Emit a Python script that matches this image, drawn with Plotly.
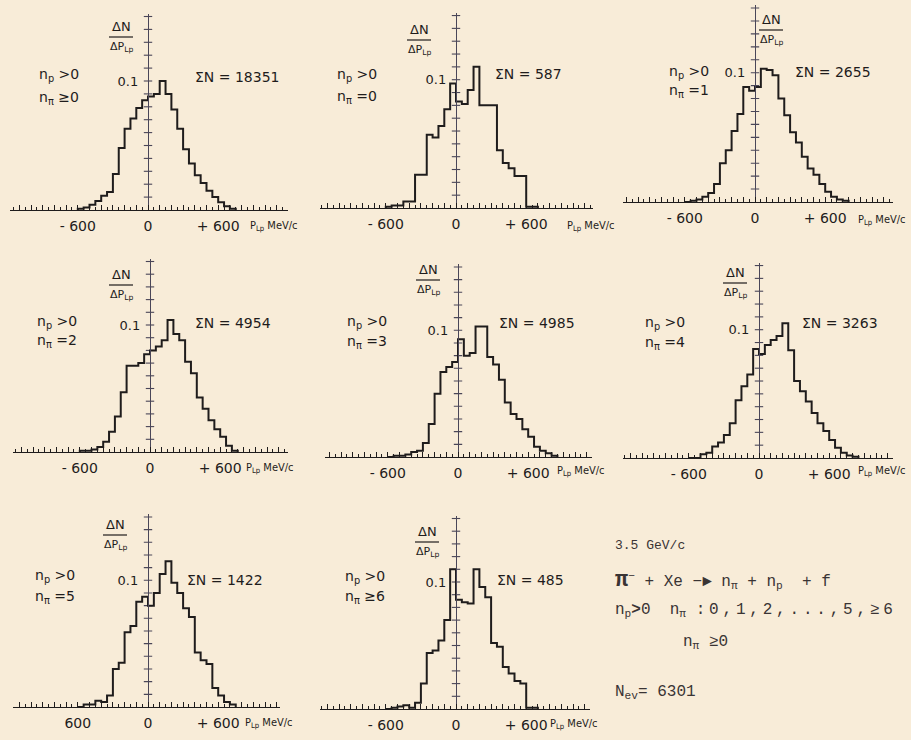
import plotly.graph_objects as go

# ---------------- data ----------------
bin_edges = list(range(-600, 900, 50))  # MeV/c, 50 MeV/c bins

p1 = [0.001, 0.002, 0.004, 0.007, 0.011, 0.014, 0.028, 0.048, 0.063, 0.071, 0.079, 0.085, 0.088, 0.090,
      0.100, 0.090, 0.078, 0.063, 0.047, 0.036, 0.027, 0.021, 0.015, 0.010, 0.006, 0.003, 0.001]
p2 = [0.001, 0.002, 0.002, 0.005, 0.005, 0.026, 0.026, 0.057, 0.055, 0.064, 0.077, 0.097, 0.083, 0.081,
      0.092, 0.110, 0.080, 0.080, 0.080, 0.045, 0.035, 0.031, 0.025, 0.025, 0.001, 0.001]
p3 = [0.000, 0.001, 0.002, 0.004, 0.007, 0.014, 0.030, 0.040, 0.055, 0.068, 0.089, 0.086, 0.089, 0.103,
      0.102, 0.098, 0.080, 0.067, 0.054, 0.046, 0.035, 0.026, 0.021, 0.014, 0.008, 0.004, 0.002, 0.001]
p4 = [0.001, 0.001, 0.002, 0.004, 0.008, 0.016, 0.028, 0.047, 0.068, 0.068, 0.070, 0.077, 0.080, 0.083,
      0.088, 0.104, 0.093, 0.088, 0.071, 0.062, 0.043, 0.034, 0.025, 0.018, 0.012, 0.005, 0.001]
p5 = [0.000, 0.001, 0.001, 0.002, 0.004, 0.005, 0.011, 0.026, 0.050, 0.067, 0.071, 0.075, 0.093, 0.080,
      0.082, 0.103, 0.103, 0.079, 0.073, 0.061, 0.043, 0.034, 0.030, 0.022, 0.016, 0.008, 0.005, 0.003, 0.001]
p6 = [0.000, 0.000, 0.003, 0.004, 0.009, 0.012, 0.018, 0.027, 0.045, 0.056, 0.065, 0.085, 0.081, 0.088,
      0.092, 0.095, 0.105, 0.084, 0.060, 0.052, 0.044, 0.035, 0.027, 0.021, 0.014, 0.008, 0.004, 0.002, 0.001]
p7 = [0.000, 0.002, 0.002, 0.005, 0.004, 0.009, 0.030, 0.035, 0.059, 0.064, 0.083, 0.087, 0.080, 0.090,
      0.105, 0.115, 0.098, 0.090, 0.078, 0.071, 0.043, 0.037, 0.034, 0.015, 0.009, 0.004, 0.002]
p8 = [0.000, 0.001, 0.002, 0.003, 0.001, 0.005, 0.020, 0.044, 0.046, 0.054, 0.070, 0.110, 0.086, 0.084,
      0.083, 0.110, 0.096, 0.088, 0.052, 0.049, 0.033, 0.028, 0.022, 0.020, 0.001, 0.001]
hist_values = [p1, p2, p3, p4, p5, p6, p7, p8]

n_pi_labels = ["n<sub>π</sub> ≥0", "n<sub>π</sub> =0", "n<sub>π</sub> =1", "n<sub>π</sub> =2",
               "n<sub>π</sub> =3", "n<sub>π</sub> =4", "n<sub>π</sub> =5", "n<sub>π</sub> ≥6"]
n_p_label = "n<sub>p</sub> >0"
sum_labels = ["ΣN = 18351", "ΣN = 587", "ΣN = 2655", "ΣN = 4954",
              "ΣN = 4985", "ΣN = 3263", "ΣN = 1422", "ΣN = 485"]
left_tick_labels = ["- 600", "- 600", "- 600", "- 600", "- 600", "- 600", "600", "- 600"]
right_tick_labels = ["+ 600"] * 8
ytick_vals = [0.01, 0.02, 0.03, 0.04, 0.05, 0.06, 0.07, 0.08, 0.09, 0.10, 0.11, 0.12, 0.13, 0.14, 0.15]

info_lines = ["3.5 GeV/c",
              "<span style='font-size:22px'><b>π</b></span><sup>−</sup> + Xe −► n<sub>π</sub> + n<sub>p</sub>  + f",
              "n<sub>p</sub><b>></b>0  n<sub>π</sub> <span style='letter-spacing:3.8px'>:0,1,2,...,5,≥6</span>",
              "n<sub>π</sub> ≥0",
              "N<sub>ev</sub>= 6301"]

# ---------------- layout / styles ----------------
W, H = 911, 740
BG = "#f8ecd8"
INK = "#1f1c1c"
AXC = "#4a4658"
PX_PER_MEV = 0.117
Y_TOP = 0.152
LFONT = "DejaVu Sans"
NFONT = "Liberation Sans Narrow, DejaVu Sans Condensed, Liberation Sans, sans-serif"

# panel geometry in pixels: x-axis ends, zero position, baseline, px per unit of dN/dP
geom = [
    dict(left=10, right=288, zero=148, base=210, k=1290, frac=(121, 37), np=(37, 75, 98), sn=(193, 77), pl=(248, 226)),
    dict(left=320, right=593, zero=456, base=208, k=1283, frac=(419, 40), np=(335, 75, 97), sn=(493, 74), pl=(565, 226)),
    dict(left=623, right=893, zero=755, base=202, k=1293, frac=(771, 30), np=(667, 72, 91), sn=(793, 72), pl=(856, 220)),
    dict(left=13, right=288, zero=150, base=452, k=1270, frac=(121, 285), np=(35, 322, 341), sn=(193, 323), pl=(244, 468)),
    dict(left=325, right=592, zero=458, base=457, k=1267, frac=(428, 280), np=(345, 322, 342), sn=(497, 323), pl=(555, 471)),
    dict(left=623, right=893, zero=759, base=458, k=1283, frac=(735, 283), np=(643, 323, 343), sn=(800, 323), pl=(856, 471)),
    dict(left=13, right=280, zero=148, base=707, k=1267, frac=(115, 535), np=(33, 576, 597), sn=(185, 580), pl=(243, 723)),
    dict(left=320, right=590, zero=456, base=709, k=1270, frac=(427, 542), np=(343, 577, 597), sn=(495, 580), pl=(548, 724)),
]
info_pos = [(613, 545), (613, 580), (613, 610), (681, 642), (613, 692)]
info_sizes = [13, 16, 16, 16, 16]


def px(x):
    return x / W


def py(y):
    return 1 - y / H


fig = go.Figure()
layout = dict(width=W, height=H, margin=dict(l=0, r=0, t=0, b=0),
              paper_bgcolor=BG, plot_bgcolor="rgba(0,0,0,0)", showlegend=False)
annotations = []
shapes = []
NP = len(hist_values)

for i, (vals, g) in enumerate(zip(hist_values, geom)):
    n = i + 1
    m = n + NP  # overlay axis for the long ticks
    xa = "xaxis" if n == 1 else f"xaxis{n}"
    ya = "yaxis" if n == 1 else f"yaxis{n}"
    xr = "x" if n == 1 else f"x{n}"
    yr = "y" if n == 1 else f"y{n}"
    xmin = -(g["zero"] - g["left"]) / PX_PER_MEV
    xmax = (g["right"] - g["zero"]) / PX_PER_MEV
    long_ticks = [v for v in range(-1200, 1201, 100) if xmin <= v <= xmax]
    short_ticks = [v for v in range(-1150, 1201, 100) if xmin <= v <= xmax]
    label_vals = [-600, 0, 600]
    label_text = [left_tick_labels[i], "0", right_tick_labels[i]]
    dom_x = [px(g["left"]), px(g["right"])]

    layout[xa] = dict(domain=dom_x, range=[xmin, xmax], anchor=yr,
                      showgrid=False, zeroline=False, showline=True, linecolor=INK, linewidth=1.4,
                      ticks="inside", ticklen=5, tickwidth=1.1, tickcolor=INK,
                      tickmode="array", tickvals=label_vals, ticktext=label_text,
                      minor=dict(tickmode="array", tickvals=short_ticks, ticks="inside", ticklen=3,
                                 tickwidth=1, tickcolor=INK),
                      tickfont=dict(family=LFONT, size=14, color=INK), ticklabelstandoff=3)
    layout[f"xaxis{m}"] = dict(domain=dom_x, range=[xmin, xmax], anchor=yr, overlaying=xr,
                               showgrid=False, zeroline=False, showline=False, showticklabels=False,
                               ticks="inside", ticklen=5, tickwidth=1.1, tickcolor=INK,
                               tickmode="array", tickvals=long_ticks)
    layout[ya] = dict(domain=[py(g["base"]), py(g["base"] - Y_TOP * g["k"])], range=[0, Y_TOP],
                      anchor="free", position=px(g["zero"]), showgrid=False, zeroline=False,
                      showline=True, linecolor=AXC, linewidth=1.3, ticks="",
                      tickmode="array", tickvals=[0.10], ticktext=["0.1"], ticklabelstandoff=7,
                      tickfont=dict(family=LFONT, size=13, color=INK))

    fig.add_trace(go.Scatter(x=[], y=[], xaxis=f"x{m}", yaxis=yr, mode="markers", hoverinfo="skip"))
    # y-axis crossing ticks
    fig.add_trace(go.Scatter(x=[0] * len(ytick_vals), y=ytick_vals, xaxis=xr, yaxis=yr, mode="markers",
                             marker=dict(symbol="line-ew", size=6, line=dict(width=1.1, color=AXC)),
                             hoverinfo="skip"))
    # histogram as steps
    nb = len(vals)
    xs = [bin_edges[0]] + bin_edges[:nb] + [bin_edges[nb]]
    ys = [0] + list(vals) + [0]
    fig.add_trace(go.Scatter(x=xs, y=ys, xaxis=xr, yaxis=yr, mode="lines",
                             line=dict(shape="hv", color=INK, width=2), hoverinfo="skip"))

    # dN/dP fraction label
    fx, fy = g["frac"]
    annotations.append(dict(x=px(fx), y=py(fy - 1), xref="paper", yref="paper", text="ΔN",
                            showarrow=False, xanchor="center", yanchor="bottom",
                            font=dict(family=LFONT, size=13, color=INK)))
    annotations.append(dict(x=px(fx), y=py(fy + 1), xref="paper", yref="paper", text="ΔP<sub>Lp</sub>",
                            showarrow=False, xanchor="center", yanchor="top",
                            font=dict(family=LFONT, size=11, color=INK)))
    shapes.append(dict(type="line", xref="paper", yref="paper", x0=px(fx - 12), x1=px(fx + 12),
                       y0=py(fy), y1=py(fy), line=dict(color=INK, width=1.2)))
    # n_p / n_pi labels
    nx, ny1, ny2 = g["np"]
    annotations.append(dict(x=px(nx), y=py(ny1), xref="paper", yref="paper", text=n_p_label,
                            showarrow=False, xanchor="left", yanchor="middle",
                            font=dict(family=LFONT, size=14, color=INK)))
    annotations.append(dict(x=px(nx), y=py(ny2), xref="paper", yref="paper", text=n_pi_labels[i],
                            showarrow=False, xanchor="left", yanchor="middle",
                            font=dict(family=LFONT, size=14, color=INK)))
    sx, sy = g["sn"]
    annotations.append(dict(x=px(sx), y=py(sy), xref="paper", yref="paper", text=sum_labels[i],
                            showarrow=False, xanchor="left", yanchor="middle",
                            font=dict(family=LFONT, size=14, color=INK)))
    lx, ly = g["pl"]
    annotations.append(dict(x=px(lx), y=py(ly), xref="paper", yref="paper",
                            text="P<sub>Lp</sub> MeV/c", showarrow=False, xanchor="left", yanchor="middle",
                            font=dict(family=NFONT, size=11, color=INK)))

for txt, (tx, ty), fs in zip(info_lines, info_pos, info_sizes):
    annotations.append(dict(x=px(tx), y=py(ty), xref="paper", yref="paper", text=txt, showarrow=False,
                            xanchor="left", yanchor="middle",
                            font=dict(family="Liberation Mono", size=fs, color="#3a3434")))

layout["annotations"] = annotations
layout["shapes"] = shapes
fig.update_layout(**layout)
fig.write_html("out.html", config={"displayModeBar": False},
               post_script="document.body.style.margin='0';document.body.style.background='%s';" % BG)
